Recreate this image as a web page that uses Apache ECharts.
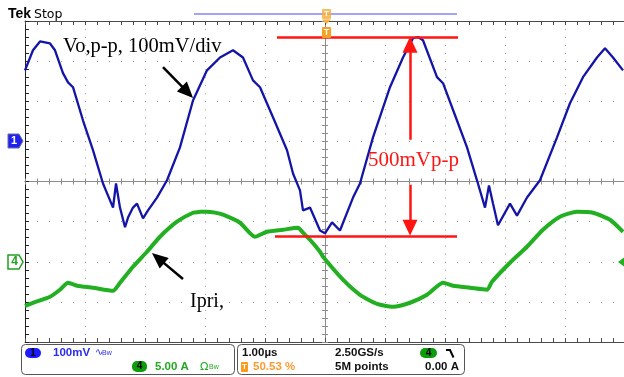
<!DOCTYPE html>
<html><head><meta charset="utf-8">
<script src="https://cdn.jsdelivr.net/npm/echarts@6/dist/echarts.min.js"></script>
<style>html,body{margin:0;padding:0;background:#fff}#c{width:624px;height:377px}</style>
</head><body><div id="c"></div>
<script>
// ---- data (time in µs relative to trigger, 1 µs/div) ----
const timeVo = [-5.000,-4.867,-4.750,-4.583,-4.500,-4.367,-4.283,-4.200,-4.033,-3.867,-3.700,-3.583,-3.533,-3.483,-3.417,-3.333,-3.283,-3.200,-3.133,-3.033,-2.950,-2.800,-2.633,-2.417,-2.200,-1.967,-1.750,-1.533,-1.367,-1.200,-1.083,-0.867,-0.633,-0.533,-0.417,-0.367,-0.250,-0.083,0.000,0.117,0.250,0.467,0.583,0.800,1.083,1.300,1.467,1.550,1.633,1.867,1.967,2.200,2.367,2.533,2.667,2.733,2.800,2.883,3.083,3.200,3.367,3.583,3.867,4.083,4.300,4.533,4.667,4.800,4.967];
const voMv = [177,227,249,244,227,170,147,135,52,-22,-105,-147,-165,-105,-165,-214,-190,-165,-155,-192,-172,-140,-97,-15,102,177,209,227,209,152,135,60,-22,-80,-122,-172,-165,-222,-229,-202,-222,-140,-105,10,135,209,257,260,252,160,145,52,-15,-97,-165,-110,-155,-209,-155,-185,-140,-97,10,95,160,209,232,209,177];
const timeIpri = [-5.000,-4.867,-4.583,-4.417,-4.283,-4.133,-3.867,-3.533,-3.417,-3.200,-2.967,-2.750,-2.467,-2.200,-2.083,-1.967,-1.833,-1.700,-1.417,-1.167,-0.967,-0.700,-0.450,-0.367,-0.250,-0.083,-0.033,0.300,0.583,0.867,1.133,1.417,1.700,1.967,2.133,2.417,2.700,2.783,3.083,3.367,3.633,3.917,4.200,4.467,4.750,4.967];
const ipriA = [-5.49,-5.11,-4.36,-3.49,-2.62,-2.99,-3.24,-3.62,-2.62,-0.62,1.25,3.12,4.99,6.11,6.22,6.24,6.12,5.86,4.86,3.12,3.74,3.99,4.24,3.62,2.74,1.25,0.62,-2.24,-4.12,-5.24,-5.61,-5.11,-4.12,-2.62,-2.99,-3.24,-3.49,-2.49,-0.12,1.87,3.99,5.61,6.24,6.11,5.24,3.74];

// channel settings: ch1 100 mV/div, ground at +1 div; ch4 5 A/div, ground at -2 div
const VO_SCALE = 100, VO_OFFSET = 1;
const I_SCALE = 5, I_OFFSET = -2;
const voDiv = v => v / VO_SCALE + VO_OFFSET;
const iDiv = a => a / I_SCALE + I_OFFSET;
const voData = timeVo.map((t, i) => [t, voDiv(voMv[i])]);
const ipriData = timeIpri.map((t, i) => [t, iDiv(ipriA[i])]);

const chart = echarts.init(document.getElementById('c'), null, {renderer: 'canvas', width: 624, height: 377});
const tickCol = '#8c8c8c', edgeCol = '#4a4a4a', red = '#ff1414';
const serif = '"Liberation Serif", "Times New Roman", serif';
const sans = '"Liberation Sans", Arial, sans-serif';
const stat = 'bold 11.5px ' + sans;

const xBase = {type: 'value', min: -5, max: 5, interval: 1, axisLabel: {show: false}, splitLine: {show: false}};
const yBase = {type: 'value', min: -4, max: 4, interval: 1, axisLabel: {show: false}, splitLine: {show: false}};
function tickSet(col, len, inside) {
  return {
    axisTick: {show: true, inside: !!inside, length: len, lineStyle: {color: col, width: 1}},
    minorTick: {show: true, splitNumber: 5, length: len, lineStyle: {color: col, width: 1}}
  };
}
function txt(x, y, text, font, fill, align) {
  return {type: 'text', x: x, y: y, silent: true, z: 100,
    style: {text: text, font: font, fill: fill, align: align || 'left', verticalAlign: 'middle'}};
}

const option = {
  animation: false,
  backgroundColor: '#fff',
  grid: {left: 25, top: 21, width: 600, height: 321, outerBoundsMode: 'none', containLabel: false},
  xAxis: [
    Object.assign({}, xBase, {position: 'bottom',
      axisLine: {show: true, onZero: true, onZeroAxisIndex: 0, lineStyle: {color: tickCol, width: 1}},
      splitLine: {show: true, lineStyle: {color: '#a0a0a0', width: 1, type: [1, 7.025]}}}, tickSet(tickCol, 3)),
    Object.assign({}, xBase, {position: 'top',
      axisLine: {show: true, onZero: true, onZeroAxisIndex: 0, lineStyle: {color: tickCol, width: 1}}}, tickSet(tickCol, 3)),
    Object.assign({}, xBase, {position: 'top',
      axisLine: {show: true, onZero: false, lineStyle: {color: edgeCol, width: 1}}}, tickSet(edgeCol, 4, true)),
    Object.assign({}, xBase, {position: 'bottom',
      axisLine: {show: true, onZero: false, lineStyle: {color: edgeCol, width: 1}}}, tickSet(edgeCol, 4, true))
  ],
  yAxis: [
    Object.assign({}, yBase, {position: 'left',
      axisLine: {show: true, onZero: true, onZeroAxisIndex: 0, lineStyle: {color: tickCol, width: 1}},
      splitLine: {show: true, lineStyle: {color: '#a0a0a0', width: 1, type: [1, 11]}}}, tickSet(tickCol, 3)),
    Object.assign({}, yBase, {position: 'right',
      axisLine: {show: true, onZero: true, onZeroAxisIndex: 0, lineStyle: {color: tickCol, width: 1}}}, tickSet(tickCol, 3)),
    Object.assign({}, yBase, {position: 'left',
      axisLine: {show: true, onZero: false, lineStyle: {color: '#222', width: 1}}}, tickSet('#222', 4, true))
  ],
  series: [
    {name: 'Ipri', type: 'line', data: ipriData, symbol: 'none', silent: true, z: 3, smooth: 0.2,
      lineStyle: {color: '#22b022', width: 4}},
    {name: 'Vo', type: 'line', data: voData, symbol: 'none', silent: true, z: 4,
      lineStyle: {color: '#1414a6', width: 2.3}},
    {name: 'redAnnot', type: 'line', data: [], symbol: 'none', silent: true, z: 6,
      markLine: {silent: true, symbol: ['none', 'none'], label: {show: false}, emphasis: {disabled: true},
        lineStyle: {color: red, width: 2.5, type: 'solid'},
        data: [
          [{coord: [-0.8, voDiv(260)]}, {coord: [2.217, voDiv(260)]}],
          [{coord: [-0.833, voDiv(-236)]}, {coord: [2.2, voDiv(-236)]}],
          [{coord: [1.417, voDiv(4)], symbol: 'none'}, {coord: [1.417, voDiv(241)], symbol: 'triangle', symbolSize: [15, 16]}],
          [{coord: [1.417, voDiv(-108)], symbol: 'none'}, {coord: [1.417, voDiv(-215)], symbol: 'triangle', symbolSize: [15, 16]}]
        ]}},
    {name: 'blackAnnot', type: 'line', data: [], symbol: 'none', silent: true, z: 6,
      markLine: {silent: true, symbol: ['none', 'none'], label: {show: false}, emphasis: {disabled: true},
        lineStyle: {color: '#000', width: 2.5, type: 'solid'},
        data: [
          [{coord: [-2.7, voDiv(185)], symbol: 'none'}, {coord: [-2.292, voDiv(122.5)], symbol: 'triangle', symbolSize: [14, 16]}],
          [{coord: [-2.367, iDiv(-2.15)], symbol: 'none'}, {coord: [-2.782, iDiv(0.455)], symbol: 'triangle', symbolSize: [14, 16]}]
        ]}}
  ],
  graphic: [
    txt(8, 14.5, 'Tek', 'bold 14px ' + sans, '#000'),
    txt(34, 15, 'Stop', '12.5px "DejaVu Sans", sans-serif', '#000'),
    {type: 'line', silent: true, shape: {x1: 194, y1: 14, x2: 457, y2: 14}, style: {stroke: '#a4a4f2', lineWidth: 2}},
    // trigger markers
    {type: 'rect', silent: true, z: 100, shape: {x: 322, y: 9, width: 9, height: 10, r: 1}, style: {fill: '#f7b040', opacity: 0.85}},
    txt(326.5, 14, 'T', 'bold 8px ' + sans, '#fff', 'center'),
    {type: 'polygon', silent: true, z: 100, shape: {points: [[322, 19.5], [331, 19.5], [326.5, 24]]}, style: {fill: '#f7b040'}},
    {type: 'rect', silent: true, z: 100, shape: {x: 322, y: 27, width: 9, height: 11, r: 1}, style: {fill: '#f5a020'}},
    txt(326.5, 32.5, 'T', 'bold 9px ' + sans, '#fff', 'center'),
    // channel markers
    {type: 'polygon', silent: true, z: 100, shape: {points: [[8, 134], [19, 134], [23, 141], [19, 148], [8, 148]]}, style: {fill: '#2020f0', stroke: '#6a6a9a', lineWidth: 1}},
    txt(14, 141, '1', 'bold 11px ' + sans, '#fff', 'center'),
    {type: 'polygon', silent: true, z: 100, shape: {points: [[8, 255], [19, 255], [23, 262], [19, 269], [8, 269]]}, style: {fill: '#fff', stroke: '#22a022', lineWidth: 1.5}},
    txt(14.5, 262, '4', 'bold 12px ' + sans, '#22a022', 'center'),
    {type: 'polygon', silent: true, z: 100, shape: {points: [[618, 262], [624, 257.5], [624, 266.5]]}, style: {fill: '#22b022'}},
    // annotation texts
    txt(63, 46.3, 'Vo,p-p, 100mV/div', '20.5px ' + serif, '#000'),
    txt(368, 160, '500mVp-p', '21px ' + serif, red),
    txt(190, 301.3, 'Ipri,', '20px ' + serif, '#000'),
    // status bar
    {type: 'rect', silent: true, shape: {x: 21.5, y: 344.5, width: 213, height: 30, r: 4}, style: {fill: '#fff', stroke: '#555', lineWidth: 1}},
    {type: 'rect', silent: true, shape: {x: 237.5, y: 344.5, width: 227, height: 30, r: 4}, style: {fill: '#fff', stroke: '#555', lineWidth: 1}},
    {type: 'rect', silent: true, z: 100, shape: {x: 25, y: 348, width: 16, height: 10, r: 5}, style: {fill: '#1c1cff'}},
    txt(33, 353, '1', 'bold 10px ' + sans, '#000', 'center'),
    txt(53, 353, '100mV', stat, '#2b2bf0'),
    txt(95, 352, '∿', '10px "DejaVu Sans", sans-serif', '#2b2bf0'),
    txt(102, 353, 'Bw', '7px ' + sans, '#2b2bf0'),
    {type: 'rect', silent: true, z: 100, shape: {x: 132, y: 361, width: 15, height: 11, r: 5}, style: {fill: '#0c9c0c'}},
    txt(139.5, 366.5, '4', 'bold 10px ' + sans, '#000', 'center'),
    txt(155, 367, '5.00 A', stat, '#22a822'),
    txt(200, 367, 'Ω', '11px "DejaVu Sans", sans-serif', '#22a822'),
    txt(209, 367, 'Bw', '7px ' + sans, '#22a822'),
    txt(242, 353, '1.00µs', stat, '#111'),
    txt(335, 353, '2.50GS/s', stat, '#111'),
    {type: 'rect', silent: true, z: 100, shape: {x: 420, y: 348, width: 17, height: 10, r: 5}, style: {fill: '#0c9c0c'}},
    txt(428.5, 353, '4', 'bold 10px ' + sans, '#000', 'center'),
    {type: 'polyline', silent: true, z: 100, shape: {points: [[446, 350], [450, 350], [453.5, 357.5]]}, style: {stroke: '#000', lineWidth: 2, fill: null}},
    {type: 'rect', silent: true, z: 100, shape: {x: 241, y: 362, width: 7, height: 10, r: 1}, style: {fill: '#ff9a1a'}},
    txt(244.5, 367, 'T', 'bold 8px ' + sans, '#fff', 'center'),
    txt(253, 367, '50.53 %', stat, '#ff9a30'),
    txt(335, 367, '5M points', stat, '#111'),
    txt(459, 367, '0.00 A', stat, '#111', 'right')
  ]
};
chart.setOption(option);
</script>
</body></html>
